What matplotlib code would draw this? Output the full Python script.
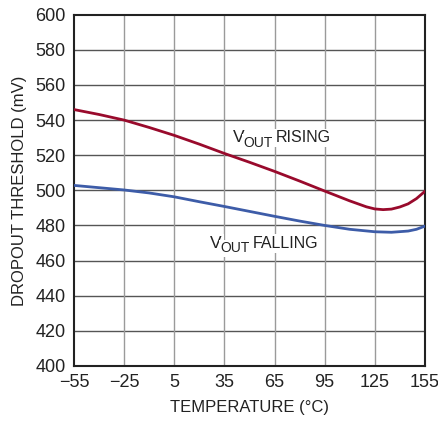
import matplotlib
matplotlib.use("Agg")
import matplotlib.pyplot as plt

plt.rcParams['font.family'] = ['Liberation Sans Narrow', 'Liberation Sans', 'DejaVu Sans']

# temperature (degC) and dropout threshold (mV)
temp_rising = [-55, -40, -25, -10, 5, 20, 35, 50, 65, 80, 95, 110, 120, 125, 130, 135, 140, 145, 150, 155]
vout_rising = [546, 543.2, 540, 535.8, 531.3, 526.3, 521, 516, 510.8, 505.3, 499.6, 494, 490.6, 489.4, 489, 489.3, 490.5, 492.3, 495.3, 499.4]

temp_falling = [-55, -40, -25, -10, 5, 20, 35, 50, 65, 80, 95, 110, 125, 135, 145, 150, 155]
vout_falling = [502.8, 501.5, 500.2, 498.5, 496.3, 493.5, 490.8, 488, 485.2, 482.5, 480, 477.8, 476.4, 476.1, 476.8, 477.8, 479.6]

x_ticks = [-55, -25, 5, 35, 65, 95, 125, 155]
y_ticks = [400, 420, 440, 460, 480, 500, 520, 540, 560, 580, 600]

fig = plt.figure(figsize=(4.38, 4.22), dpi=100)
ax = fig.add_axes([0.169, 0.133, 0.801, 0.832])

# grid: horizontal lines darker than vertical ones
for y in y_ticks[1:-1]:
    ax.axhline(y, color='#555555', linewidth=1.0, zorder=1)
for x in x_ticks[1:-1]:
    ax.axvline(x, color='#9a9a9a', linewidth=1.0, zorder=1)

ax.plot(temp_rising, vout_rising, color='#990a2c', linewidth=2.0, zorder=3)
ax.plot(temp_falling, vout_falling, color='#3d5ca8', linewidth=2.0, zorder=3)


def vout_label(x, y, word):
    # "V" + lowered "OUT" + word, pieces chained one after another
    box = dict(facecolor='white', edgecolor='none', pad=1.2)
    t1 = ax.text(x, y, 'V', fontsize=12.5, ha='left', va='baseline',
                 color='#222222', bbox=box, zorder=2)
    t2 = ax.annotate('OUT', xy=(1, y), xycoords=(t1, 'data'),
                     xytext=(-0.8, -3.2), textcoords='offset points',
                     fontsize=10, ha='left', va='baseline',
                     color='#222222', bbox=box, zorder=2)
    ax.annotate(word, xy=(1, y), xycoords=(t2, 'data'),
                xytext=(2, 0), textcoords='offset points',
                fontsize=11.5, ha='left', va='baseline',
                color='#222222', bbox=box, zorder=2)


vout_label(40, 527.3, 'RISING')
vout_label(26.5, 467.2, 'FALLING')

ax.set_xlim(-55, 155)
ax.set_ylim(400, 600)
ax.set_xticks(x_ticks)
ax.set_yticks(y_ticks)
ax.tick_params(length=0, labelsize=13, pad=6, colors='#222222')
for s in ax.spines.values():
    s.set_linewidth(1.5)
    s.set_color('#222222')

ax.set_xlabel('TEMPERATURE (°C)', fontsize=12, color='#222222', labelpad=6)
ax.set_ylabel('DROPOUT THRESHOLD (mV)', fontsize=12, color='#222222', labelpad=6)

fig.savefig('out.png', dpi=100)
